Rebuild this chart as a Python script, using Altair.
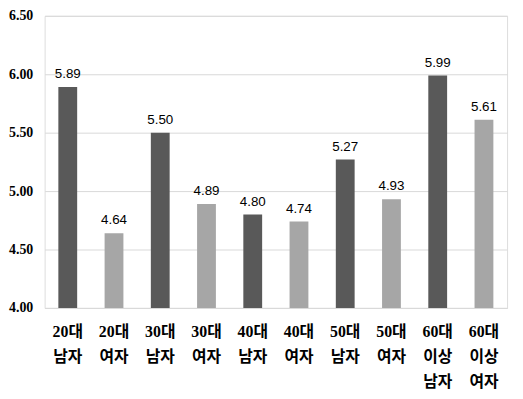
import altair as alt
import pandas as pd

categories = ["20대 남자", "20대 여자", "30대 남자", "30대 여자", "40대 남자",
              "40대 여자", "50대 남자", "50대 여자", "60대 이상 남자", "60대 이상 여자"]
values = [5.89, 4.64, 5.50, 4.89, 4.80, 4.74, 5.27, 4.93, 5.99, 5.61]
gender = ["남자", "여자"] * 5
y_ticks = [4.0, 4.5, 5.0, 5.5, 6.0, 6.5]

df = pd.DataFrame({"cat": categories, "val": values, "g": gender})

SERIF = "'Liberation Serif', 'Times New Roman', serif"

x = alt.X("cat:N", sort=categories, title=None,
          scale=alt.Scale(paddingInner=0.59, paddingOuter=0.295),
          axis=alt.Axis(labelAngle=0, labelExpr="split(datum.label, ' ')",
                        labelFont="'Liberation Serif', 'Noto Sans CJK KR', serif",
                        labelFontWeight="bold", labelFontSize=16,
                        labelLineHeight=25, labelPadding=16, labelColor="#000000",
                        ticks=False, tickSize=0, domainColor="#d9d9d9", domainWidth=1,
                        grid=False))
y = alt.Y("val:Q", title=None,
          scale=alt.Scale(domain=[4.0, 6.5], nice=False, zero=False),
          axis=alt.Axis(values=y_ticks, format=".2f", labelFont=SERIF,
                        labelFontWeight="bold", labelFontSize=14, labelColor="#000000",
                        labelPadding=12, ticks=False, tickSize=0, domain=False,
                        gridColor="#d9d9d9", gridWidth=1))

bars = alt.Chart(df).mark_bar(size=19, clip=True).encode(
    x=x, y=y, y2=alt.datum(4.0),
    color=alt.Color("g:N", scale=alt.Scale(domain=["남자", "여자"], range=["#595959", "#a6a6a6"]),
                    legend=None),
)
labels = alt.Chart(df).mark_text(font="'Liberation Sans', sans-serif", fontSize=13.5, dy=-9,
                                 baseline="alphabetic", color="#000000").encode(
    x=alt.X("cat:N", sort=categories), y="val:Q", text=alt.Text("val:Q", format=".2f"))

chart = alt.layer(bars, labels).properties(
    width=467, height=295,
    autosize=alt.AutoSizeParams(type="none"),
    padding={"left": 37, "top": 6, "right": 8, "bottom": 84},
).configure_view(stroke=None).configure(background="white")

chart.save("out.html", embed_options={"renderer": "svg", "actions": False})
